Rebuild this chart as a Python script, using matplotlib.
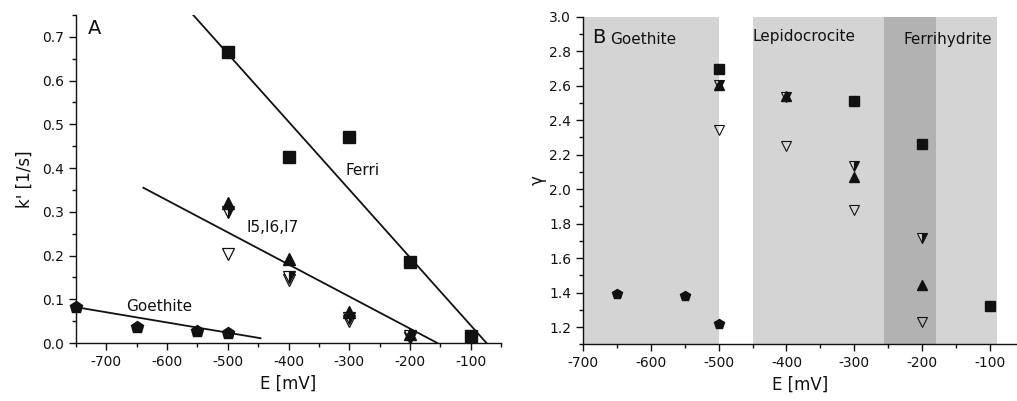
import matplotlib
matplotlib.use("Agg")
import matplotlib.pyplot as plt
from matplotlib.ticker import MultipleLocator

plt.rcParams['font.family'] = ['DejaVu Sans']
plt.rcParams['font.size'] = 10
plt.rcParams['axes.unicode_minus'] = False

# ---- Panel A: rate constants k' vs potential ----
E_a = [-500, -400, -300, -200, -100]
ferri_k = [0.665, 0.425, 0.47, 0.185, 0.015]
i5_k = [0.32, 0.192, 0.072, 0.020, 0.010]
i6_k = [0.30, 0.152, 0.058, 0.015, 0.008]
i7_k = [0.204, 0.145, 0.050, 0.012, 0.014]
goe_E = [-750, -650, -550, -500]
goe_k = [0.083, 0.037, 0.028, 0.022]

# linear fit lines (end points)
ferri_fit_E = [-557, -74]
ferri_fit_k = [0.75, 0.0]
i_fit_E = [-639, -155]
i_fit_k = [0.355, 0.0]
goe_fit_E = [-750, -446]
goe_fit_k = [0.082, 0.011]

# ---- Panel B: gamma vs potential ----
ferri_gE = [-500, -300, -200, -100]
ferri_g = [2.698, 2.514, 2.262, 1.322]
i_gE = [-500, -400, -300, -200]
i5_g = [2.605, 2.538, 2.072, 1.443]
i6_g = [2.605, 2.535, 2.133, 1.715]
i7_g = [2.345, 2.253, 1.877, 1.228]
goe_gE = [-650, -550, -500]
goe_g = [1.391, 1.381, 1.216]

phase_names = ["Goethite", "Lepidocrocite", "Ferrihydrite"]
phase_spans = [(-700, -500), (-450, -90), (-256, -180)]

fig = plt.figure(figsize=(10.17, 4.01), dpi=100)
axA = fig.add_axes([0.0747, 0.1446, 0.418, 0.818])
axB = fig.add_axes([0.5733, 0.1414, 0.4267, 0.8169])

ink = '#111111'

def style(ax):
    for s in ('top', 'right'):
        ax.spines[s].set_visible(False)
    for s in ('left', 'bottom'):
        ax.spines[s].set_linewidth(1.0)
        ax.spines[s].set_color(ink)
    ax.tick_params(which='major', direction='out', length=5, width=1, colors=ink, labelsize=10)
    ax.tick_params(which='minor', direction='out', length=3, width=1, colors=ink)

# Panel A
ms = 8
axA.plot(ferri_fit_E, ferri_fit_k, color=ink, lw=1.3)
axA.plot(i_fit_E, i_fit_k, color=ink, lw=1.3)
axA.plot(goe_fit_E, goe_fit_k, color=ink, lw=1.3)
axA.plot(E_a, i7_k, 'v', ms=ms, mfc='white', mec=ink, mew=0.9, ls='none')
axA.plot(E_a, i6_k, 'v', ms=ms, mfc=ink, mec=ink, fillstyle='right',
         markerfacecoloralt='white', mew=0.9, ls='none')
axA.plot(E_a, i5_k, '^', ms=ms, mfc=ink, mec=ink, ls='none')
axA.plot(E_a, ferri_k, 's', ms=ms, mfc=ink, mec=ink, ls='none')
axA.plot(goe_E, goe_k, 'p', ms=ms + 1, mfc=ink, mec=ink, ls='none', clip_on=False)

axA.set_xlim(-750, -50)
axA.set_ylim(0, 0.75)
axA.xaxis.set_minor_locator(MultipleLocator(50))
axA.yaxis.set_minor_locator(MultipleLocator(0.05))
axA.set_xticks([-700, -600, -500, -400, -300, -200, -100])
axA.set_yticks([0.0, 0.1, 0.2, 0.3, 0.4, 0.5, 0.6, 0.7])
style(axA)
axA.set_xlabel("E [mV]", fontsize=12, color=ink, labelpad=4)
axA.set_ylabel("k' [1/s]", fontsize=12, color=ink, labelpad=6)
axA.text(-730, 0.72, "A", fontsize=14, color=ink, va='center')
axA.text(-306, 0.395, "Ferri", fontsize=11, color=ink, va='center')
axA.text(-470, 0.265, "I5,I6,I7", fontsize=11, color=ink, va='center')
axA.text(-667, 0.084, "Goethite", fontsize=11, color=ink, va='center')

# Panel B
colors = ['#d4d4d4', '#d4d4d4', '#b2b2b2']
for (x0, x1), c in zip(phase_spans, colors):
    axB.axvspan(x0, x1, color=c, lw=0, zorder=0)
msb = 6.5
axB.plot(i_gE, i7_g, 'v', ms=msb, mfc='none', mec=ink, mew=0.8, ls='none')
axB.plot(i_gE, i6_g, 'v', ms=msb, mfc=ink, mec=ink, fillstyle='right',
         markerfacecoloralt='#d4d4d4', mew=0.8, ls='none')
axB.plot(i_gE, i5_g, '^', ms=msb, mfc=ink, mec=ink, ls='none')
axB.plot(ferri_gE, ferri_g, 's', ms=msb, mfc=ink, mec=ink, ls='none')
axB.plot(goe_gE, goe_g, 'p', ms=msb + 1, mfc=ink, mec=ink, ls='none')

axB.set_xlim(-700, -60)
axB.set_ylim(1.1, 3.0)
axB.xaxis.set_minor_locator(MultipleLocator(50))
axB.set_xticks([-700, -600, -500, -400, -300, -200, -100])
gamma_ticks = [1.2, 1.4, 1.6, 1.8, 2.0, 2.2, 2.4, 2.6, 2.8, 3.0]
axB.set_yticks(gamma_ticks)
axB.set_yticklabels([f"{v:.1f}" for v in gamma_ticks])
axB.yaxis.set_minor_locator(MultipleLocator(0.1))
style(axB)
axB.set_xlabel("E [mV]", fontsize=12, color=ink, labelpad=4)
axB.set_ylabel("γ", fontsize=12, color=ink, labelpad=2)
axB.text(-687, 2.88, "B", fontsize=14, color=ink, va='center')
label_x = [-660, -450, -228]
label_y = [2.865, 2.885, 2.87]
for name, x, y in zip(phase_names, label_x, label_y):
    axB.text(x, y, name, fontsize=11, color=ink, va='center')

fig.savefig("out.png", dpi=100)
